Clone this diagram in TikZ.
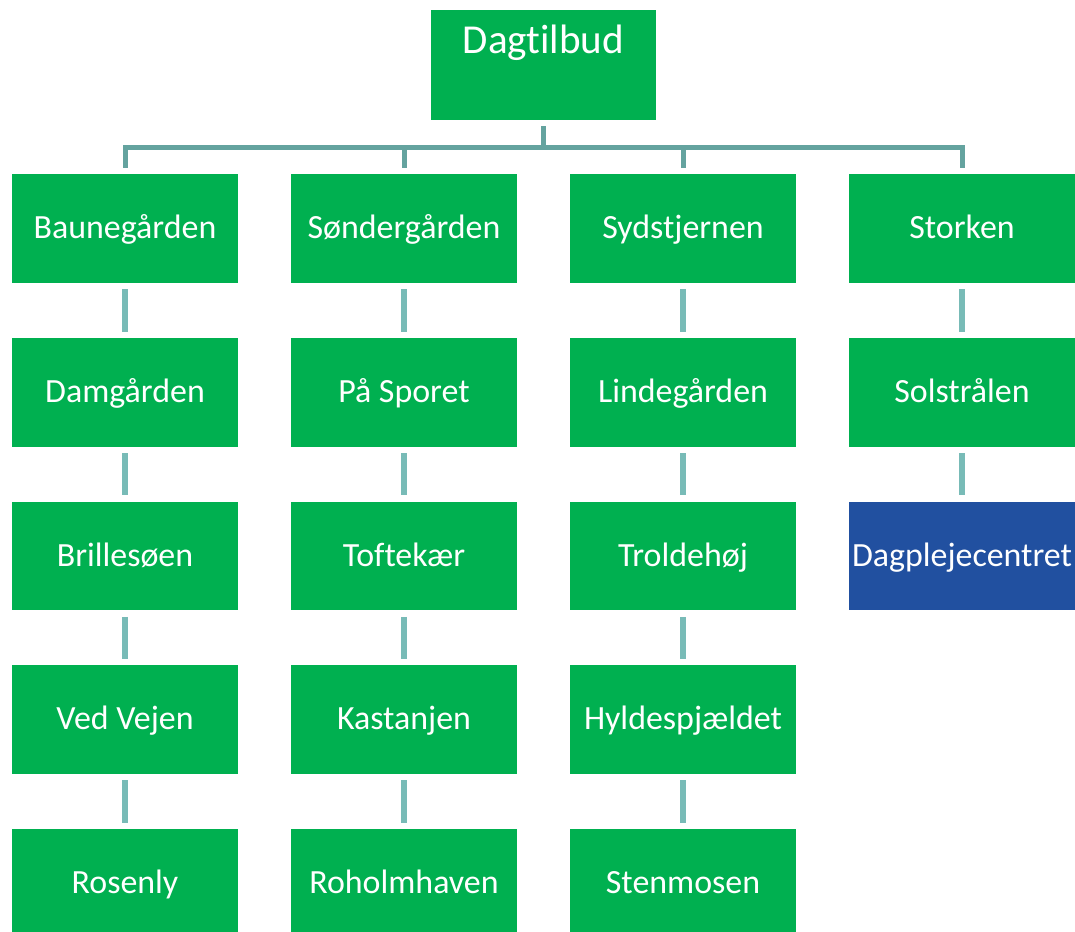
\documentclass[tikz,border=0pt]{standalone}
\usepackage{fontspec}
\setmainfont{Carlito}[Ligatures=NoCommon]
\usepackage{tikz}
\usetikzlibrary{calc}

\definecolor{boxgreen}{HTML}{00B050}
\definecolor{boxblue}{HTML}{2150A0}
\definecolor{busline}{HTML}{64A39F}
\definecolor{linkline}{HTML}{78BBB7}

\tikzstyle{box} = [fill=boxgreen, text=white, inner sep=0pt, minimum width=4.52cm, minimum height=2.18cm, text height=15.4pt, text depth=3.5pt, font=\fontsize{19.3}{23}\selectfont]
\tikzstyle{rootbox} = [box, minimum width=4.5cm, minimum height=2.2cm, text height=0.88cm, text depth=1.32cm, font=\fontsize{23.4}{28}\selectfont]
\tikzstyle{bluebox} = [box, fill=boxblue]
\tikzstyle{bus} = [draw=busline, line width=0.1cm]
\tikzstyle{link} = [draw=linkline, line width=0.11cm, shorten <=0.12cm, shorten >=0.12cm]

\begin{document}
\begin{tikzpicture}[x=0.02cm, y=-0.02cm]

	\path[use as bounding box, clip] (0,0) rectangle (1075,932);

	\node[rootbox] (top) at (543.5, 65) {Dagtilbud} ;
	\coordinate (junction) at (543.5, 147.5) ;

	% first column
	\node[box] (baune) at (125, 228.5) {Baunegården} ;
	\node[box] (damg) at (125, 392.5) {Damgården} ;
	\node[box] (brille) at (125, 556) {Brillesøen} ;
	\node[box] (vedvej) at (125, 719.5) {Ved Vejen} ;
	\node[box] (rosen) at (125, 883.5) {Rosenly} ;

	% second column
	\node[box] (sonder) at (404, 228.5) {Søndergården} ;
	\node[box] (sporet) at (404, 392.5) {På Sporet} ;
	\node[box] (tofte) at (404, 556) {Toftekær} ;
	\node[box] (kastan) at (404, 719.5) {Kastanjen} ;
	\node[box] (roholm) at (404, 883.5) {Roholmhaven} ;

	% third column
	\node[box] (sydstj) at (683, 228.5) {Sydstjernen} ;
	\node[box] (linde) at (683, 392.5) {Lindegården} ;
	\node[box] (trold) at (683, 556) {Troldehøj} ;
	\node[box] (hylde) at (683, 719.5) {Hyldespjældet} ;
	\node[box] (stenm) at (683, 883.5) {Stenmosen} ;

	% fourth column
	\node[box] (stork) at (962, 228.5) {Storken} ;
	\node[box] (solstr) at (962, 392.5) {Solstrålen} ;
	\node[bluebox] (dagpl) at (962, 556) {Dagplejecentret} ;

	\draw[bus, shorten <=0.12cm] (top) -- (junction) ;
	\draw[bus, shorten <=0.12cm, shorten >=0.12cm] (baune) |- (junction) -| (stork) ;
	\draw[bus, shorten >=0.12cm] (junction -| sonder) -- (sonder) ;
	\draw[bus, shorten >=0.12cm] (junction -| sydstj) -- (sydstj) ;

	\draw[link] (baune) -- (damg) ;
	\draw[link] (damg) -- (brille) ;
	\draw[link] (brille) -- (vedvej) ;
	\draw[link] (vedvej) -- (rosen) ;

	\draw[link] (sonder) -- (sporet) ;
	\draw[link] (sporet) -- (tofte) ;
	\draw[link] (tofte) -- (kastan) ;
	\draw[link] (kastan) -- (roholm) ;

	\draw[link] (sydstj) -- (linde) ;
	\draw[link] (linde) -- (trold) ;
	\draw[link] (trold) -- (hylde) ;
	\draw[link] (hylde) -- (stenm) ;

	\draw[link] (stork) -- (solstr) ;
	\draw[link] (solstr) -- (dagpl) ;
\end{tikzpicture}
\end{document}
